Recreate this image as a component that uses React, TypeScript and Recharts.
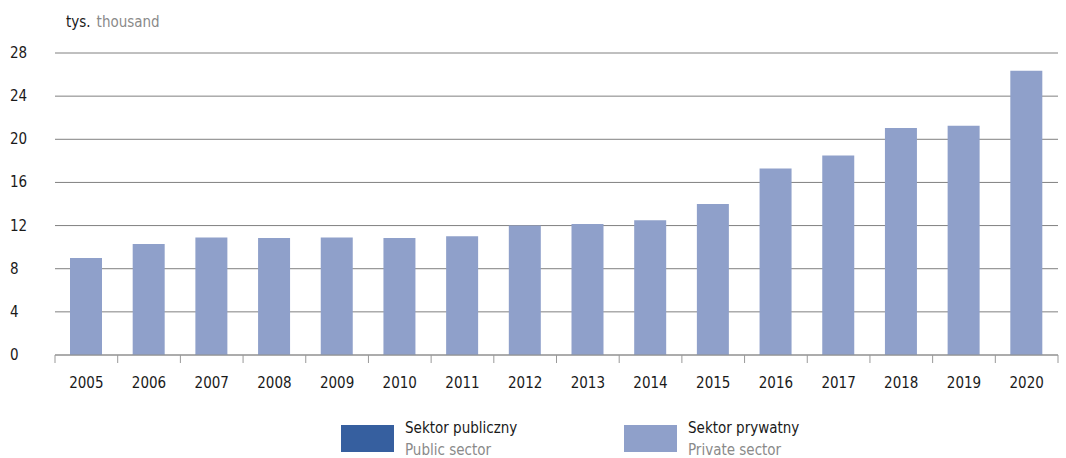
import { Bar, BarChart, CartesianGrid, XAxis, YAxis } from "recharts";

const years = ["2005", "2006", "2007", "2008", "2009", "2010", "2011", "2012", "2013", "2014", "2015", "2016", "2017", "2018", "2019", "2020"];
const publicSector = [0.05, 0.05, 0.05, 0.05, 0.05, 0.05, 0.05, 0.05, 0.05, 0.05, 0.05, 0.05, 0.05, 0.05, 0.05, 0.05];
const privateSector = [8.95, 10.25, 10.85, 10.8, 10.85, 10.8, 10.95, 11.95, 12.1, 12.45, 13.95, 17.25, 18.45, 21.0, 21.2, 26.3];
const yTicks = [0, 4, 8, 12, 16, 20, 24, 28];

const data = years.map((year, i) => ({
  year,
  publicSector: publicSector[i],
  privateSector: privateSector[i],
}));

const FONT = "'Liberation Sans Narrow', 'DejaVu Sans Condensed', 'Roboto Condensed', sans-serif";
const PUBLIC_COLOR = "#365f9f";
const PRIVATE_COLOR = "#8fa0ca";
const HALF_BAND = 1003 / 16 / 2;

function YTick({ y, payload }: any) {
  return (
    <text x={10} y={y} dy={5} textAnchor="start" fill="#1a1a1a" fontSize={15} fontFamily={FONT}>
      {payload.value}
    </text>
  );
}

function XTick({ x, y, payload, index }: any) {
  const top = y - 8;
  return (
    <g>
      <line x1={x - HALF_BAND} x2={x - HALF_BAND} y1={top} y2={top + 8} stroke="#999" />
      {index === years.length - 1 && (
        <line x1={x + HALF_BAND} x2={x + HALF_BAND} y1={top} y2={top + 8} stroke="#999" />
      )}
      <text x={x} y={top + 33} textAnchor="middle" fill="#1a1a1a" fontSize={15} fontFamily={FONT}>
        {payload.value}
      </text>
    </g>
  );
}

function LegendItem({ left, color, pl, en }: { left: number; color: string; pl: string; en: string }) {
  return (
    <div style={{ position: "absolute", left, top: 417, display: "flex", fontFamily: FONT }}>
      <div style={{ width: 53, height: 27, background: color, marginTop: 8 }} />
      <div style={{ marginLeft: 11, lineHeight: "22px", fontSize: 15 }}>
        <div style={{ color: "#1a1a1a" }}>{pl}</div>
        <div style={{ color: "#8a8a8a" }}>{en}</div>
      </div>
    </div>
  );
}

export default function App() {
  return (
    <div style={{ position: "absolute", left: 0, top: 0, width: 1066, height: 458, background: "#fff" }}>
      <div style={{ position: "absolute", left: 66, top: 13, fontFamily: FONT, fontSize: 15 }}>
        <span style={{ color: "#1a1a1a" }}>tys.</span>
        <span style={{ color: "#8a8a8a", marginLeft: 6 }}>thousand</span>
      </div>
      <BarChart
        width={1066}
        height={458}
        data={data}
        margin={{ top: 53, right: 8, left: 10, bottom: 73 }}
        barSize={32}
      >
        <CartesianGrid vertical={false} stroke="#808080" />
        <YAxis
          width={45}
          domain={[0, 28]}
          ticks={yTicks}
          axisLine={false}
          tickLine={false}
          tick={<YTick />}
          interval={0}
        />
        <XAxis
          dataKey="year"
          height={30}
          axisLine={{ stroke: "#999" }}
          tickLine={false}
          tick={<XTick />}
          interval={0}
        />
        <Bar dataKey="publicSector" stackId="a" fill={PUBLIC_COLOR} isAnimationActive={false} />
        <Bar dataKey="privateSector" stackId="a" fill={PRIVATE_COLOR} isAnimationActive={false} />
      </BarChart>
      <LegendItem left={341} color={PUBLIC_COLOR} pl="Sektor publiczny" en="Public sector" />
      <LegendItem left={624} color={PRIVATE_COLOR} pl="Sektor prywatny" en="Private sector" />
    </div>
  );
}
